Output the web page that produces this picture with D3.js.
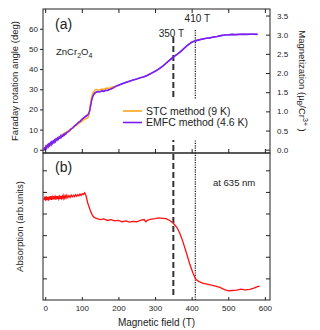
<!DOCTYPE html>
<html lang="en">
<head>
    <meta charset="UTF-8">
    <title>ZnCr2O4 Faraday rotation and absorption</title>
    <script src="https://d3js.org/d3.v7.min.js"></script>
    <style>
        body {
            margin: 0;
            padding: 0;
            background: #fff;
        }
        svg text {
            font-family: "Liberation Sans", Arial, sans-serif;
            fill: #222;
        }
    </style>
</head>
<body>
    <svg width="320" height="330"></svg>
    <script>
        // EMFC method (4.6 K): field (T) and Faraday rotation angle (deg)
        const emfcField = [-4, -2, 0, 2, 4, 6, 8, 10, 12, 14, 16, 18, 20, 22, 24, 26, 28, 30, 32, 34, 36, 38, 40, 42,
            44, 46, 48, 50, 52, 54, 56, 58, 60,
            65, 70, 75, 80, 85, 90, 95, 100, 105, 110, 114, 118, 121, 124, 127, 130, 133, 136, 140, 145, 150,
            155, 160, 165, 170, 175, 180, 185, 190, 195, 200, 210, 220, 230, 240, 250, 260, 270, 280, 290, 300,
            310, 320, 330, 340, 350, 360, 370, 380, 390, 400, 410, 420, 430, 440, 450, 460, 470, 480, 490, 500,
            510, 520, 530, 540, 550, 560, 570, 580];
        const emfcAngle = [-0.3, 0.8, 0.3, 1.6, 0.9, 2.2, 1.5, 2.7, 2.1, 3.3, 2.6, 3.8, 3.2, 4.3, 3.7, 4.8, 4.2, 5.3,
            4.8, 5.8, 5.3, 6.2, 5.8, 6.8, 6.3, 7.2, 6.8, 7.7, 7.3, 8.1, 7.8, 8.6, 8.6,
            9.3, 10.2, 10.8, 11.8, 12.4, 13.4, 14.0, 15.0, 15.8, 16.5, 17.0, 17.6, 19.0, 22.0, 24.8, 26.6, 27.6, 28.2, 28.6, 28.9, 28.8,
            29.2, 29.0, 29.5, 29.4, 29.9, 30.2, 30.6, 31.2, 31.6, 32.0, 32.7, 33.4, 34.0, 34.6, 35.1, 35.7, 36.2, 37.0, 37.9, 38.9,
            40.0, 41.3, 42.9, 44.5, 46.0, 47.3, 48.7, 50.4, 52.0, 53.3, 54.0, 54.5, 54.9, 55.3, 55.5, 55.9, 56.2, 56.6, 56.9, 57.0,
            57.2, 57.1, 57.2, 57.3, 57.2, 57.3, 57.3, 57.2];

        // STC method (9 K)
        const stcField = [0, 10, 20, 30, 40, 50, 60, 70, 80, 90, 100, 105, 110, 115, 118, 120, 123, 126, 129, 132, 136,
            140, 145, 150, 155, 160, 165, 170, 175, 180, 185, 190, 195];
        const stcAngle = [0.5, 2.0, 3.5, 5.0, 6.3, 7.8, 9.0, 10.2, 11.5, 12.8, 14.0, 14.8, 15.3, 15.8, 16.2, 18.0, 22.0,
            25.5, 27.6, 28.7, 29.6, 29.9, 29.6, 29.8, 30.1, 29.9, 30.4, 30.6, 30.4, 30.9, 31.3, 31.4, 31.7];

        // Absorption at 635 nm (arb. units)
        const absField = [-3, -1, 1, 3, 5, 7, 9, 11, 13, 15, 17, 19, 21, 23, 25, 27, 29, 31, 33, 35, 37, 39, 41, 43, 45,
            47, 49, 51, 53, 55, 57, 59, 62, 65, 68, 71, 74, 77, 80, 83, 86, 89, 92, 95, 98, 101, 104, 108, 112, 116, 120,
            124, 128, 132, 136, 140, 150, 160, 170, 180, 190, 200,
            210, 220, 230, 240, 250, 260, 270, 275, 280, 290, 300, 310, 320, 330, 340, 350, 360, 368, 376, 386, 395, 404,
            410, 414, 420, 432, 445, 460, 477, 490, 500, 510, 523, 535, 545, 559, 570, 580, 586];
        const absorption = [4.62, 4.78, 4.6, 4.8, 4.62, 4.76, 4.6, 4.79, 4.64, 4.8, 4.63, 4.77, 4.65, 4.81, 4.66, 4.78,
            4.64, 4.8, 4.67, 4.82, 4.68, 4.79, 4.67, 4.82, 4.7, 4.8, 4.69, 4.83, 4.71, 4.81, 4.72, 4.84, 4.74, 4.83, 4.75,
            4.85, 4.77, 4.84, 4.78, 4.87, 4.8, 4.88, 4.82, 4.9, 4.84, 4.92, 4.88, 4.96, 4.8, 4.5, 4.3,
            4.1, 3.95, 3.85, 3.8, 3.78, 3.72, 3.75, 3.68, 3.72, 3.66, 3.68, 3.62, 3.66, 3.6, 3.64, 3.62, 3.68, 3.72, 3.62,
            3.7, 3.74, 3.76, 3.8, 3.78, 3.76, 3.68, 3.55, 3.35, 3.08, 2.7, 2.16, 1.65, 1.23, 1.0, 0.92, 0.85, 0.77, 0.72,
            0.66, 0.58, 0.48, 0.42, 0.44, 0.46, 0.5, 0.47, 0.49, 0.55, 0.62, 0.64];

        const fieldTicks = [0, 100, 200, 300, 400, 500, 600];
        const angleTicks = [0, 10, 20, 30, 40, 50, 60];
        const magTicks = [0, 0.5, 1.0, 1.5, 2.0, 2.5, 3.0, 3.5];
        const absTicks = [1, 2, 3, 4, 5, 6];

        const svg = d3.select("svg");
        const left = 43, right = 270;
        const topA = 9, bottomA = 153, bottomB = 300;

        // Scales
        const x = d3.scaleLinear().domain([-6, 614]).range([left, right]);
        const yAngle = d3.scaleLinear().domain([-1.6, 69.8]).range([bottomA, topA]);
        const yMag = d3.scaleLinear().domain([-0.086, 3.67]).range([bottomA, topA]);
        const yAbs = d3.scaleLinear().domain([0, 6.8]).range([bottomB, bottomA]);

        const fontFamily = '"Liberation Sans", Arial, sans-serif';

        function styleAxis(g) {
            g.attr("font-family", fontFamily).attr("font-size", 8);
            g.select(".domain").remove();
            g.selectAll("line").attr("stroke", "#222");
            g.selectAll("text").attr("fill", "#222");
        }

        // Marker lines (drawn first, legend box covers them)
        const lines = svg.append("g");
        lines.append("line")
            .attr("x1", x(350)).attr("x2", x(350))
            .attr("y1", 37).attr("y2", bottomB - 2)
            .attr("stroke", "#333").attr("stroke-width", 2)
            .attr("stroke-dasharray", "6,3");
        lines.append("line")
            .attr("x1", x(410)).attr("x2", x(410))
            .attr("y1", 30).attr("y2", bottomB)
            .attr("stroke", "#111").attr("stroke-width", 1.2)
            .attr("stroke-dasharray", "1.2,1.2");

        // Curves
        const lineAngle = d3.line()
            .x(d => x(d[0]))
            .y(d => yAngle(d[1]));
        const lineAbs = d3.line()
            .x(d => x(d[0]))
            .y(d => yAbs(d[1]));

        svg.append("path")
            .datum(d3.zip(emfcField, emfcAngle))
            .attr("fill", "none")
            .attr("stroke", "#7a1ff0")
            .attr("stroke-width", 1.6)
            .attr("d", lineAngle);

        svg.append("path")
            .datum(d3.zip(stcField, stcAngle))
            .attr("fill", "none")
            .attr("stroke", "#ffa41c")
            .attr("stroke-width", 1.4)
            .attr("d", lineAngle);

        // purple again on top, thinner, so the orange only peeks out at the edges
        svg.append("path")
            .datum(d3.zip(emfcField, emfcAngle))
            .attr("fill", "none")
            .attr("stroke", "#7a1ff0")
            .attr("stroke-width", 1.2)
            .attr("d", lineAngle);

        svg.append("path")
            .datum(d3.zip(absField, absorption))
            .attr("fill", "none")
            .attr("stroke", "#ff1010")
            .attr("stroke-width", 1.3)
            .attr("d", lineAbs);

        // Frames
        svg.append("rect")
            .attr("x", left).attr("y", topA)
            .attr("width", right - left).attr("height", bottomA - topA)
            .attr("fill", "none").attr("stroke", "#222").attr("stroke-width", 1);
        svg.append("rect")
            .attr("x", left).attr("y", bottomA)
            .attr("width", right - left).attr("height", bottomB - bottomA)
            .attr("fill", "none").attr("stroke", "#222").attr("stroke-width", 1);

        // Axes for panel (a)
        svg.append("g")
            .attr("transform", `translate(${left},0)`)
            .call(d3.axisLeft(yAngle).tickValues(angleTicks).tickSize(3).tickPadding(2))
            .call(styleAxis);
        svg.append("g")
            .attr("transform", `translate(${right},0)`)
            .call(d3.axisRight(yMag).tickValues(magTicks).tickSize(-4).tickPadding(7)
                .tickFormat(d3.format(".1f")))
            .call(styleAxis);
        svg.append("g")
            .attr("transform", `translate(0,${topA})`)
            .call(d3.axisTop(x).tickValues(fieldTicks).tickSize(-4).tickFormat(""))
            .call(styleAxis);
        svg.append("g")
            .attr("transform", `translate(0,${bottomA})`)
            .call(d3.axisBottom(x).tickValues(fieldTicks).tickSize(-4).tickFormat(""))
            .call(styleAxis);

        // Axes for panel (b)
        svg.append("g")
            .attr("transform", `translate(${left},0)`)
            .call(d3.axisLeft(yAbs).tickValues(absTicks).tickSize(-4).tickFormat(""))
            .call(styleAxis);
        svg.append("g")
            .attr("transform", `translate(${right},0)`)
            .call(d3.axisRight(yAbs).tickValues(absTicks).tickSize(-4).tickFormat(""))
            .call(styleAxis);
        svg.append("g")
            .attr("transform", `translate(0,${bottomB})`)
            .call(d3.axisBottom(x).tickValues(fieldTicks).tickSize(-3).tickPadding(5))
            .call(styleAxis);

        // Legend with white box
        const legend = svg.append("g");
        legend.append("rect")
            .attr("x", 118).attr("y", 99)
            .attr("width", 138).attr("height", 41)
            .attr("fill", "#fff");
        const legendItems = [
            { label: "STC method (9 K)", color: "#ffa41c", y: 111 },
            { label: "EMFC method (4.6 K)", color: "#7a1ff0", y: 122.5 }
        ];
        legendItems.forEach(d => {
            legend.append("line")
                .attr("x1", 123).attr("x2", 142)
                .attr("y1", d.y).attr("y2", d.y)
                .attr("stroke", d.color).attr("stroke-width", 1.6);
            legend.append("text")
                .attr("x", 146).attr("y", d.y + 3.8)
                .attr("font-size", 10.5)
                .text(d.label);
        });

        // Annotations
        svg.append("text").attr("x", 55).attr("y", 29).attr("font-size", 14).text("(a)");
        svg.append("text").attr("x", 55).attr("y", 172).attr("font-size", 14).text("(b)");

        const zn = svg.append("text").attr("x", 56).attr("y", 55).attr("font-size", 9.5);
        zn.append("tspan").text("ZnCr");
        zn.append("tspan").attr("font-size", 7).attr("dy", 2.5).text("2");
        zn.append("tspan").attr("dy", -2.5).text("O");
        zn.append("tspan").attr("font-size", 7).attr("dy", 2.5).text("4");

        svg.append("text").attr("x", x(350) - 2).attr("y", 36.5)
            .attr("font-size", 10).attr("text-anchor", "middle").text("350 T");
        svg.append("text").attr("x", x(410) + 2).attr("y", 22)
            .attr("font-size", 10).attr("text-anchor", "middle").text("410 T");
        svg.append("text").attr("x", 213).attr("y", 186)
            .attr("font-size", 9.5).text("at 635 nm");

        // Axis titles
        svg.append("text")
            .attr("transform", `translate(18,${(topA + bottomA) / 2}) rotate(-90)`)
            .attr("text-anchor", "middle")
            .attr("font-size", 9.5)
            .text("Faraday rotation angle (deg)");
        svg.append("text")
            .attr("transform", `translate(22.5,${(bottomA + bottomB) / 2}) rotate(-90)`)
            .attr("text-anchor", "middle")
            .attr("font-size", 9.5)
            .text("Absorption (arb.units)");
        svg.append("text")
            .attr("x", (left + right) / 2).attr("y", 326)
            .attr("text-anchor", "middle")
            .attr("font-size", 10)
            .text("Magnetic field (T)");

        const mag = svg.append("text")
            .attr("transform", `translate(299,${(topA + bottomA) / 2}) rotate(90)`)
            .attr("text-anchor", "middle")
            .attr("font-size", 9.5);
        mag.append("tspan").text("Magnetization (\u03bc");
        mag.append("tspan").attr("font-size", 7).attr("dy", 2.5).text("B");
        mag.append("tspan").attr("dy", -2.5).text("/Cr");
        mag.append("tspan").attr("font-size", 7).attr("dy", -4).text("3+");
        mag.append("tspan").attr("dy", 4).text(" )");
    </script>
</body>
</html>
